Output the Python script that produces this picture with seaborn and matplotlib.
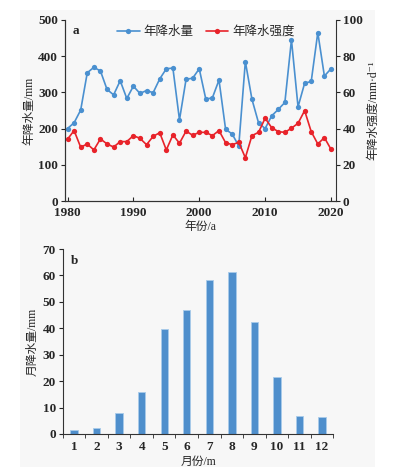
import numpy as np
import pandas as pd
import seaborn as sns
import matplotlib
matplotlib.use('Agg')
import matplotlib.pyplot as plt
from matplotlib.patches import Rectangle

# annual data 1980-2020
years = list(range(1980, 2021))
annual_precip = [200, 216, 251, 354, 369, 359, 308, 293, 332, 283,
                 317, 297, 305, 299, 337, 365, 367, 224, 336, 339,
                 365, 281, 285, 334, 198, 185, 152, 385, 281, 216,
                 200, 235, 253, 272, 445, 260, 325, 330, 465, 345, 365]
annual_intensity = [34.1, 38.9, 29.7, 31.5, 28.2, 34.3, 31.5, 29.8, 32.8, 32.8,
                    36.1, 34.6, 31.1, 35.7, 37.7, 28.2, 36.5, 31.9, 38.6, 36.3,
                    37.9, 37.9, 36.1, 38.9, 32.2, 31.1, 32.4, 23.9, 36.1, 37.9,
                    45.7, 40.5, 38.3, 37.9, 40.2, 42.9, 49.9, 38.3, 31.5, 35.0, 28.6]

# monthly data
months = [str(m) for m in range(1, 13)]
monthly_precip = [1.6, 2.3, 7.8, 15.9, 39.8, 46.9, 58.3, 61.2, 42.4, 21.7, 6.9, 6.3]

sns.set_style('ticks')
plt.rcParams['font.family'] = ['Liberation Serif', 'Noto Sans CJK SC', 'DejaVu Serif']

blue = '#4a90d0'
red = '#e8232a'
fs = 9.5

fig = plt.figure(figsize=(3.98, 4.73), dpi=100)
fig.patches.append(Rectangle((20 / 398, 1 - 467 / 473), 355 / 398, 457 / 473,
                             transform=fig.transFigure, facecolor='#f7f7f7',
                             edgecolor='none', zorder=-1))

# ---- panel a ----
ax1 = fig.add_axes([0.163, 0.575, 0.681, 0.383])
ax1.set_facecolor('none')
df_a = pd.DataFrame({'year': years, 'p': annual_precip, 'i': annual_intensity})
sns.lineplot(data=df_a, x='year', y='p', ax=ax1, color=blue, marker='o',
             markersize=3.8, markeredgewidth=0, linewidth=1.2, label='年降水量', legend=False)
ax2 = ax1.twinx()
sns.lineplot(data=df_a, x='year', y='i', ax=ax2, color=red, marker='o',
             markersize=3.8, markeredgewidth=0, linewidth=1.2, label='年降水强度', legend=False)

ax1.set_xlim(1979.6, 2020.75)
ax1.set_ylim(0, 500)
ax2.set_ylim(0, 100)
ax1.set_xticks(range(1980, 2021, 10))
ax1.set_yticks(range(0, 501, 100))
ax2.set_yticks(range(0, 101, 20))
ax1.set_xlabel('年份/a', fontsize=8.5, labelpad=2)
ax1.set_ylabel('年降水量/mm', fontsize=8.5, labelpad=2)
ax2.set_ylabel('年降水强度/mm·d⁻¹', fontsize=8.5, labelpad=3)
ax1.tick_params(axis='x', direction='in', length=3, labelsize=fs, pad=4)
ax1.tick_params(axis='y', direction='out', length=3, labelsize=fs, pad=2)
ax2.tick_params(axis='y', direction='out', length=3, labelsize=fs, pad=2)
for a in (ax1, ax2):
    for lab in a.get_xticklabels() + a.get_yticklabels():
        lab.set_fontweight('bold')
    a.spines['top'].set_visible(False)
    for s in a.spines.values():
        s.set_linewidth(0.8)
        s.set_color('#333333')
ax1.spines['right'].set_visible(False)

h1, l1 = ax1.get_legend_handles_labels()
h2, l2 = ax2.get_legend_handles_labels()
ax1.legend(h1 + h2, l1 + l2, ncol=2, frameon=False, fontsize=9,
           loc='upper center', bbox_to_anchor=(0.52, 1.03),
           handlelength=1.8, handletextpad=0.3, columnspacing=1.0)
ax1.text(0.03, 0.97, 'a', transform=ax1.transAxes, fontsize=fs,
         fontweight='bold', va='top', ha='left')

# ---- panel b ----
ax3 = fig.add_axes([0.158, 0.0825, 0.679, 0.391])
ax3.set_facecolor('none')
df_b = pd.DataFrame({'month': months, 'p': monthly_precip})
sns.barplot(data=df_b, x='month', y='p', ax=ax3, color='#4f8fcc',
            saturation=1, width=0.33, edgecolor='#a8cbea', linewidth=0.6)
ax3.set_xlim(-0.5, 11.5)
ax3.set_ylim(0, 70)
ax3.set_yticks(range(0, 71, 10))
ax3.set_xticks(np.arange(-0.5, 12, 1), minor=True)
ax3.tick_params(axis='x', which='major', length=0, labelsize=fs, pad=5)
ax3.tick_params(axis='x', which='minor', direction='out', length=3)
ax3.tick_params(axis='y', direction='out', length=3, labelsize=fs, pad=2)
for lab in ax3.get_xticklabels() + ax3.get_yticklabels():
    lab.set_fontweight('bold')
ax3.set_xlabel('月份/m', fontsize=8.5, labelpad=2)
ax3.set_ylabel('月降水量/mm', fontsize=8.5, labelpad=3)
ax3.spines['top'].set_visible(False)
ax3.spines['right'].set_visible(False)
for s in ax3.spines.values():
    s.set_linewidth(0.8)
    s.set_color('#333333')
ax3.text(0.03, 0.97, 'b', transform=ax3.transAxes, fontsize=fs,
         fontweight='bold', va='top', ha='left')

fig.savefig('out.png', dpi=100)
